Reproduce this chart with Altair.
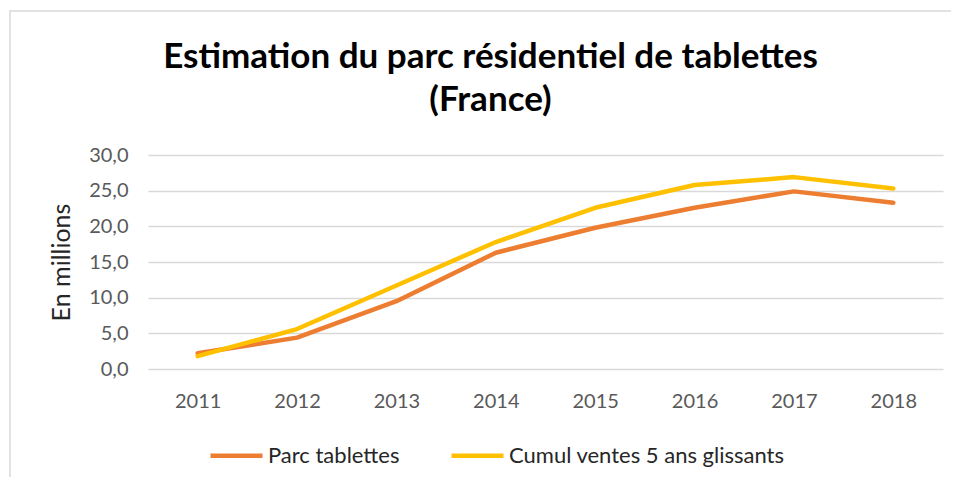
import altair as alt
import pandas as pd

years = ["2011", "2012", "2013", "2014", "2015", "2016", "2017", "2018"]
parc_tablettes = [2.2, 4.4, 9.5, 16.3, 19.8, 22.6, 24.9, 23.3]
cumul_ventes = [1.8, 5.6, 11.7, 17.8, 22.6, 25.8, 26.9, 25.3]
series_names = ["Parc tablettes", "Cumul ventes 5 ans glissants"]
series_colors = ["#ED7D31", "#FFC000"]

rows = []
for name, vals in zip(series_names, [parc_tablettes, cumul_ventes]):
    for y, v in zip(years, vals):
        rows.append({"Année": y, "Valeur": v, "Série": name})
df = pd.DataFrame(rows)

W, H = 795, 214

lines = alt.Chart(df).mark_line(strokeWidth=4.5, strokeCap="round", strokeJoin="round").encode(
    x=alt.X("Année:O", scale=alt.Scale(type="point", padding=0.5),
            axis=alt.Axis(title=None, labelAngle=0, labelFontSize=20, labelColor="#595959",
                          labelFont="Lato", labelPadding=22, ticks=False, domain=False, grid=False)),
    y=alt.Y("Valeur:Q", scale=alt.Scale(domain=[0, 30]),
            axis=alt.Axis(title="En millions", values=[0, 5, 10, 15, 20, 25, 30],
                          labelExpr="replace(format(datum.value, '.1f'), '.', ',')",
                          labelFontSize=20, labelColor="#595959", labelFont="Lato",
                          labelPadding=20, ticks=False, domain=False,
                          gridColor="#D9D9D9", gridWidth=1.5,
                          titleFontSize=25, titleFont="Lato", titleFontWeight="normal",
                          titleColor="#262626", titlePadding=14)),
    color=alt.Color("Série:N", scale=alt.Scale(domain=series_names, range=series_colors),
                    legend=alt.Legend(title=None, orient="none", direction="horizontal",
                                      legendX=60, legendY=272, symbolType="stroke",
                                      symbolSize=2704, symbolStrokeWidth=4.5,
                                      labelFontSize=22, labelFont="Lato", labelColor="#262626",
                                      labelLimit=0, columnPadding=42, labelOffset=3)),
)

border = alt.Chart(alt.Data(values=[{}])).mark_rect(
    fill=None, stroke="#D9D9D9", strokeWidth=1.5, clip=False
).encode(
    x=alt.value(-138), x2=alt.value(830), y=alt.value(-144), y2=alt.value(330)
)

chart = alt.layer(border, lines).properties(
    width=W, height=H,
    title=alt.TitleParams(
        text=["Estimation du parc résidentiel de tablettes", "(France)"],
        fontSize=35, font="Lato", fontWeight="bold", color="#000000",
        anchor="middle", dx=-55, offset=-108, lineHeight=43,
    ),
    autosize=alt.AutoSizeParams(type="none"),
    padding={"left": 140, "top": 147, "right": 8, "bottom": 108},
).configure_view(stroke=None)

chart.save("out.html", embed_options={"renderer": "svg", "actions": False})
